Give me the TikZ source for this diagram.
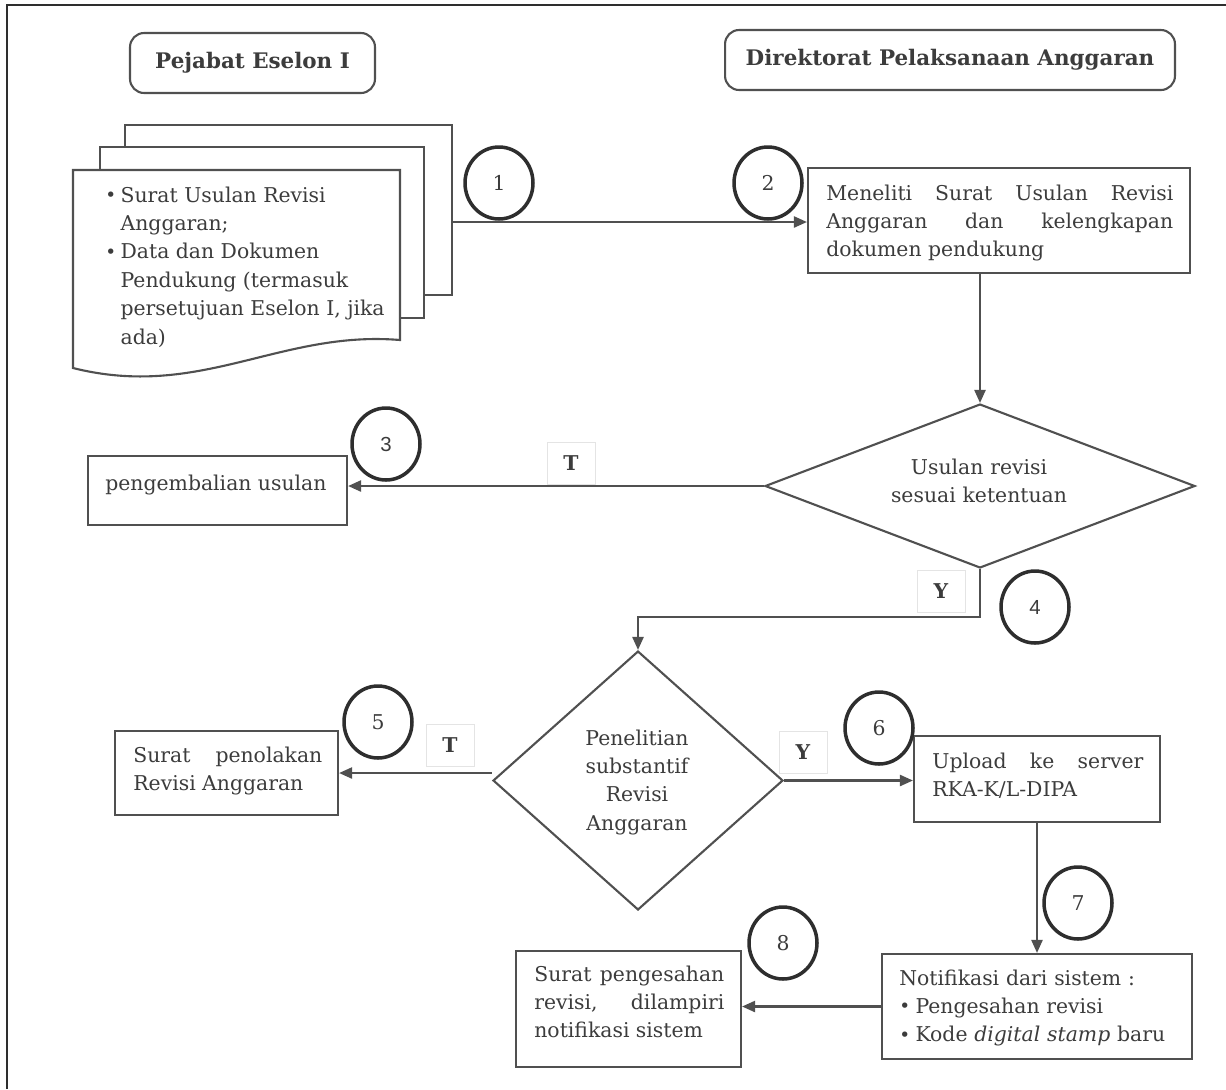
\documentclass[tikz,border=0pt]{standalone}
\usepackage{fontspec}
\setmainfont{DejaVu Serif}
\setsansfont{Liberation Sans}
\usetikzlibrary{arrows.meta,shapes.geometric,fit,calc}

\definecolor{ink}{HTML}{3C3C3C}
\definecolor{edge}{HTML}{505050}
\definecolor{ring}{HTML}{2E2E2E}
\definecolor{tagline}{HTML}{E4E4E4}

\newcommand\txtfont{\fontsize{11.6}{16.2}\selectfont}
\newcommand\headfont{\fontsize{12.2}{16.2}\selectfont\bfseries}
\newcommand\dotglyph{\raisebox{0.05ex}{\fontsize{10.5}{10}\selectfont•}}
\newcommand\dotmark{\dotglyph\kern3pt}

\tikzset{
  box/.style={draw=edge, line width=1.2pt, fill=white, inner sep=0pt},
  sheet/.style={draw=edge, line width=1.2pt, fill=white},
  head/.style={draw=edge, line width=1.2pt, rounded corners=8pt, fill=white,
    font=\headfont, text=ink, inner sep=0pt},
  txt/.style={inner sep=0pt, text=ink, font=\txtfont},
  num/.style={ellipse, draw=ring, line width=2pt, minimum width=1.36cm,
    minimum height=1.44cm, inner sep=0pt, font=\txtfont, text=ink},
  tag/.style={draw=tagline, line width=0.5pt, fill=white, minimum width=0.96cm,
    minimum height=0.84cm, inner sep=0pt, font=\txtfont\bfseries, text=ink},
  conn/.style={draw=edge, line width=1.3pt, -{Triangle[length=0.26cm, width=0.22cm]}},
  dia/.style={diamond, draw=edge, line width=1.2pt, inner sep=0pt, fill=white}
}

\begin{document}
\begin{tikzpicture}[x=0.02cm, y=-0.02cm]
\useasboundingbox (0,0) rectangle (1226,1089);

% page frame
\draw[draw=ring, line width=1.2pt] (7,1089) -- (7,5) -- (1226,5);

% lane headers
\node[head, minimum width=4.9cm, minimum height=1.2cm] (h1) at (252.5,63) {Pejabat Eselon I};
\node[head, minimum width=9cm, minimum height=1.2cm] (h2) at (950,60) {Direktorat Pelaksanaan Anggaran};

% stacked documents
\draw[sheet] (125,125) rectangle (452,295);
\draw[sheet] (100,147) rectangle (424,318);
\draw[sheet] (73,170) -- (400,170) -- (400,340)
  .. controls (280,330) and (200,400) .. (73,368) -- cycle;
\node[txt, anchor=base west] (doc) at (105,202) {%
  \def\arraystretch{1.0}%
  \begin{tabular}[t]{@{}l@{\hspace{2.5pt}}l@{}}
  \dotglyph & Surat Usulan Revisi\\
   & Anggaran;\\
  \dotglyph & Data dan Dokumen\\
   & Pendukung (termasuk\\
   & persetujuan Eselon I, jika\\
   & ada)
  \end{tabular}};
\coordinate (s1) at (452,222);

% process boxes
\node[box, fit={(808,168) (1190,273)}] (b2) {};
\node[txt, text width=6.94cm, align=justify, anchor=base west] (t2) at (826,200)
  {Meneliti Surat Usulan Revisi\linebreak Anggaran dan kelengkapan\linebreak dokumen pendukung};

\node[dia, minimum width=8.6cm, minimum height=3.28cm] (d1) at (980,486) {};
\node[txt, text width=5cm, align=center, anchor=base] (t3) at (979,474)
  {Usulan revisi\\sesuai ketentuan};

\node[box, fit={(88,456) (347,525)}] (b3) {};
\node[txt, anchor=base west] (t4) at (105,490) {pengembalian usulan};

\node[dia, minimum width=5.8cm, minimum height=5.18cm] (d2) at (638,780.5) {};
\node[txt, text width=3.6cm, align=center, anchor=base] (t5) at (637,745)
  {Penelitian\\substantif\\Revisi\\Anggaran};

\node[box, fit={(115,731) (338,815)}] (b5) {};
\node[txt, text width=3.78cm, align=justify, anchor=base west] (t6) at (133,762)
  {Surat penolakan\linebreak Revisi Anggaran};

\node[box, fit={(914,736) (1160,822)}] (b6) {};
\node[txt, text width=4.22cm, align=justify, anchor=base west] (t7) at (932,768)
  {Upload ke server\linebreak RKA-K/L-DIPA};

\node[box, fit={(882,954) (1192,1059)}] (b7) {};
\node[txt, text width=5.8cm, align=left, anchor=base west] (t8) at (899,985)
  {Notifikasi dari sistem :\\\dotmark Pengesahan revisi\\\dotmark Kode \textit{digital stamp} baru};

\node[box, fit={(516,951) (741,1067)}] (b8) {};
\node[txt, text width=3.8cm, align=justify, anchor=base west] (t9) at (534,981)
  {Surat pengesahan\linebreak revisi, dilampiri\linebreak notifikasi sistem};

% connectors
\draw[conn] (s1) -- (s1 -| b2.west);
\draw[conn] (d1.north |- b2.south) -- (d1.north);
\draw[conn] (d1.west) -- (d1.west -| b3.east);
\draw[conn] (d1.south) -- ++(0,48) -| (d2.north);
\draw[conn] (d2.west |- b5.east) -- (b5.east);
\draw[conn] (d2.east) -- (d2.east -| b6.west);
\draw[conn] (b7.north |- b6.south) -- (b7.north);
\draw[conn] (b7.west) -- (b7.west -| b8.east);

% branch tags
\node[tag] (tg1) at (571,463) {T};
\node[tag] (tg2) at (941,591) {Y};
\node[tag] (tg3) at (450,745) {T};
\node[tag] (tg4) at (803,752) {Y};

% step numbers
\node[num] (n1) at (499,183) {1};
\node[num] (n2) at (768,183) {2};
\node[num, font=\txtfont\sffamily] (n3) at (386,444) {3};
\node[num, font=\txtfont\sffamily] (n4) at (1035,607) {4};
\node[num] (n5) at (378,722) {5};
\node[num] (n6) at (879,728) {6};
\node[num] (n7) at (1078,903) {7};
\node[num] (n8) at (783,943) {8};
\end{tikzpicture}
\end{document}
